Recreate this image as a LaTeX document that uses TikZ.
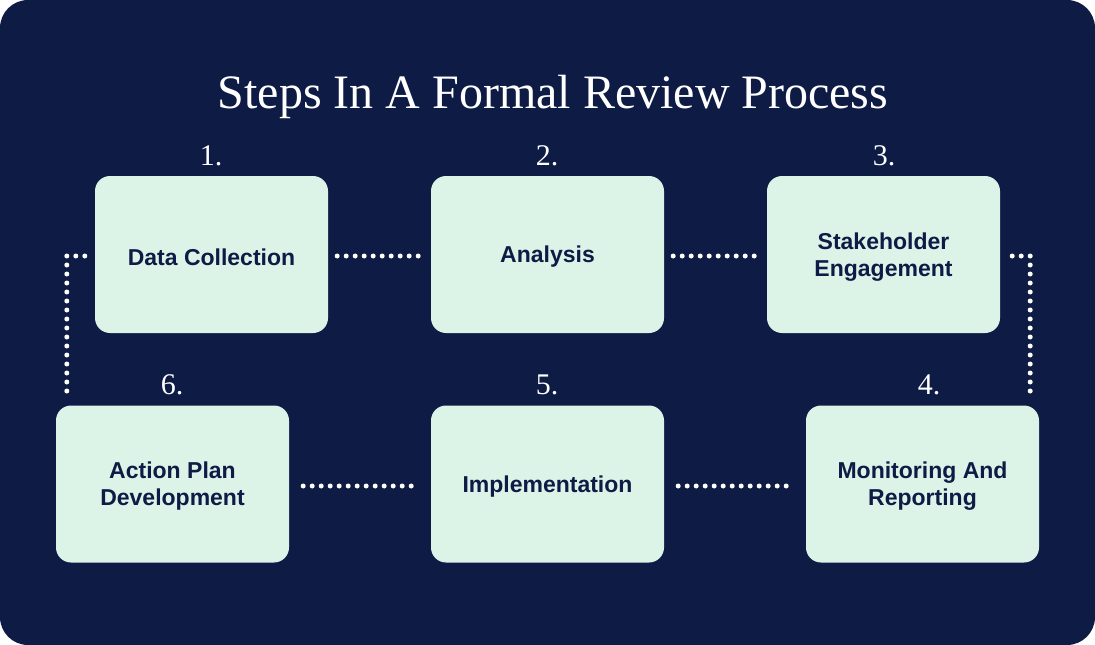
\documentclass[tikz,border=0pt]{standalone}
\usepackage{fontspec}
\setmainfont{Liberation Serif}
\setsansfont{Liberation Sans}
\definecolor{navy}{HTML}{0D1B45}
\definecolor{mint}{HTML}{DCF3E7}
\begin{document}
\begin{tikzpicture}[x=1pt,y=-1pt,
  stepbox/.style={draw=none,fill=mint,rounded corners=15pt,minimum width=233pt,minimum height=157pt,inner sep=0pt},
  steptext/.style={inner sep=0pt,align=center,text=navy,font=\sffamily\bfseries\fontsize{23}{27}\selectfont},
  numlabel/.style={text=white,anchor=base,inner sep=0pt,font=\fontsize{30}{30}\selectfont},
  dots/.style={draw=white,line width=5pt,line cap=round,dash pattern=on 0pt off 9pt}]
\useasboundingbox (0,0) rectangle (1095,645);
\fill[navy,rounded corners=28pt] (0,0) rectangle (1095,645);
\node[text=white,anchor=base,inner sep=0pt,font=\fontsize{48}{48}\selectfont] (title) at (553,108) {Steps In A Formal Review Process};
\node[stepbox] (dc) at (211.5,254.5) {};
\node[stepbox] (an) at (547.5,254.5) {};
\node[stepbox] (st) at (883.5,254.5) {};
\node[stepbox] (ap) at (172.5,484) {};
\node[stepbox] (im) at (547.5,484) {};
\node[stepbox] (mo) at (922.5,484) {};
\node[steptext] (dct) at ([yshift=-2.5pt]dc.center) {Data Collection};
\node[steptext] (ant) at ([yshift=-2.5pt]an.center) {Analysis};
\node[steptext] (stt) at ([yshift=-2.5pt]st.center) {Stakeholder\\Engagement};
\node[steptext] (apt) at ([yshift=-2.5pt]ap.center) {Action Plan\\Development};
\node[steptext] (imt) at ([yshift=-2.5pt]im.center) {Implementation};
\node[steptext] (mot) at ([yshift=-2.5pt]mo.center) {Monitoring And\\Reporting};
\node[numlabel] (n1) at (211,165) {1.};
\node[numlabel] (n2) at (547,165) {2.};
\node[numlabel] (n3) at (884,165) {3.};
\node[numlabel] (n6) at (172,394) {6.};
\node[numlabel] (n5) at (547,394) {5.};
\node[numlabel] (n4) at (929,394) {4.};
\draw[dots] ([xshift=9pt,yshift=-1.5pt]dc.east) -- ([xshift=-9pt,yshift=-1.5pt]an.west);
\draw[dots] ([xshift=9pt,yshift=-1.5pt]an.east) -- ([xshift=-9pt,yshift=-1.5pt]st.west);
\draw[dots] ([xshift=14pt,yshift=-2pt]ap.east) -- ([xshift=-14pt,yshift=-2pt]im.west);
\draw[dots] ([xshift=14pt,yshift=-2pt]im.east) -- ([xshift=-14pt,yshift=-2pt]mo.west);
\draw[dots] ([xshift=-10pt,yshift=-1.5pt]dc.west) -| ([xshift=11pt,yshift=12pt]ap.north west);
\draw[dots] ([xshift=12pt,yshift=-1.5pt]st.east) -| ([xshift=-9pt,yshift=12pt]mo.north east);
\end{tikzpicture}
\end{document}
